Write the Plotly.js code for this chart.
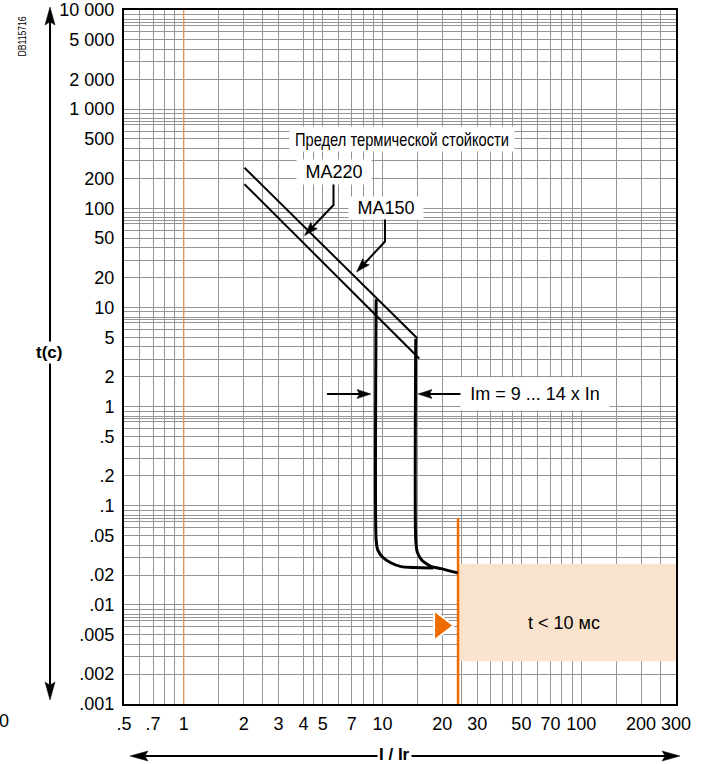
<!DOCTYPE html>
<html>
<head>
<meta charset="utf-8">
<script src="https://cdn.plot.ly/plotly-3.0.1.min.js"></script>
<style>html,body{margin:0;padding:0;background:#fff;}#chart{width:704px;height:764px;}</style>
</head>
<body>
<div id="chart"></div>
<script>
// ---------- data ----------
const xTickVals = [0.5, 0.7, 1, 2, 3, 4, 5, 7, 10, 20, 30, 50, 70, 100, 200, 300];
const xTickText = ['.5', '.7', '1', '2', '3', '4', '5', '7', '10', '20', '30', '50', '70', '100', '200', '300'];
const xMinorVals = [0.6, 0.8, 0.9, 1.5, 2.5, 4.5, 6, 8, 9, 15, 25, 35, 40, 45, 60, 80, 90, 150, 250];

const yTickVals = [0.001, 0.002, 0.005, 0.01, 0.02, 0.05, 0.1, 0.2, 0.5, 1, 2, 5, 10, 20, 50, 100, 200, 500, 1000, 2000, 5000, 10000];
const yTickText = ['.001', '.002', '.005', '.01', '.02', '.05', '.1', '.2', '.5', '1', '2', '5', '10', '20', '50', '100', '200', '500', '1 000', '2 000', '5 000', '10 000'];
const yMinorMultiples = [3, 4, 6, 7, 7.5, 8, 9];
const yDecades = [0.001, 0.01, 0.1, 1, 10, 100, 1000];

// thermal withstand limits (I²t lines)
const thermUpperX = [2.02, 15.0];
const thermUpperY = [256, 4.86];
const thermLowerX = [2.02, 15.3];
const thermLowerY = [175, 3.06];

// magnetic trip curves (Im = 9 and Im = 14)
const tripLowX = [9.29, 9.29, 9.47, 10.03, 11.0, 12.4, 14.5, 18.0];
const tripLowY = [12.1, 0.0449, 0.0356, 0.0302, 0.0266, 0.0243, 0.0238, 0.0236];
const tripHighX = [14.7, 14.7, 14.97, 15.78, 17.5, 19.7, 23.9];
const tripHighY = [4.83, 0.0449, 0.034, 0.0282, 0.0245, 0.0232, 0.021];

// reference lines and zone
const refLineX = 1;
const zoneX = [24, 300];
const zoneY = [0.0027, 0.026];
const zoneLineTop = 0.075;
const markerX = [19.6];
const markerY = [0.0062];

// ---------- helpers ----------
const L = 124, T = 10, W = 552, H = 694;
const px = x => (x - L) / W;
const py = y => (T + H - y) / H;
const lg = Math.log10;

const yMinorVals = [];
yDecades.forEach(d => yMinorMultiples.forEach(m => yMinorVals.push(d * m)));

function arrow(pts, headLen, headW, lw) {
  const n = pts.length;
  const [tx, ty] = pts[n - 1];
  const [bx, by] = pts[n - 2];
  const dx = tx - bx, dy = ty - by, d = Math.hypot(dx, dy);
  const ux = dx / d, uy = dy / d;
  const baseX = tx - ux * headLen, baseY = ty - uy * headLen;
  const shaft = pts.slice(0, n - 1).concat([[baseX + ux * 3, baseY + uy * 3]]);
  const path = shaft.map((p, i) => (i ? 'L' : 'M') + px(p[0]) + ',' + py(p[1])).join(' ');
  const s1 = [baseX - uy * headW / 2, baseY + ux * headW / 2];
  const s2 = [baseX + uy * headW / 2, baseY - ux * headW / 2];
  const notch = [baseX + ux * headLen * 0.18, baseY + uy * headLen * 0.18];
  const head = 'M' + px(tx) + ',' + py(ty) + ' L' + px(s1[0]) + ',' + py(s1[1]) +
    ' L' + px(notch[0]) + ',' + py(notch[1]) + ' L' + px(s2[0]) + ',' + py(s2[1]) + ' Z';
  return [
    {type: 'path', xref: 'paper', yref: 'paper', path: path, line: {color: '#000', width: lw}},
    {type: 'path', xref: 'paper', yref: 'paper', path: head, fillcolor: '#000', line: {color: '#000', width: 0.5}}
  ];
}

const FONT = 'Liberation Sans, Arial, sans-serif';

// ---------- traces ----------
const black = '#000';
const traces = [
  {
    x: [zoneX[0], zoneX[1], zoneX[1], zoneX[0], zoneX[0]],
    y: [zoneY[0], zoneY[0], zoneY[1], zoneY[1], zoneY[0]],
    mode: 'lines', fill: 'toself', fillcolor: '#fae3cd', line: {width: 0, color: '#fae3cd'}
  },
  {x: [refLineX, refLineX], y: [yTickVals[0], yTickVals[yTickVals.length - 1]], mode: 'lines', line: {color: '#f29a55', width: 1.2}},
  {x: [zoneX[0], zoneX[0]], y: [zoneLineTop, yTickVals[0]], mode: 'lines', line: {color: '#ef6c00', width: 2.5}},
  {x: thermUpperX, y: thermUpperY, mode: 'lines', line: {color: black, width: 2}},
  {x: thermLowerX, y: thermLowerY, mode: 'lines', line: {color: black, width: 2}},
  {x: tripLowX, y: tripLowY, mode: 'lines', line: {color: black, width: 3, shape: 'spline', smoothing: 0.6}},
  {x: tripHighX, y: tripHighY, mode: 'lines', line: {color: black, width: 3, shape: 'spline', smoothing: 0.6}},
  {x: markerX, y: markerY, mode: 'markers', marker: {symbol: 'triangle-right', size: 26, color: '#ef6c00', line: {color: '#fff', width: 2}}}
];

// ---------- shapes (decorative arrows) ----------
let shapes = [];
shapes = shapes.concat(arrow([[50, 352], [50, 7]], 18, 10, 2));
shapes = shapes.concat(arrow([[50, 352], [50, 700]], 18, 10, 2));
shapes = shapes.concat(arrow([[394, 756], [130, 756]], 18, 10, 2));
shapes = shapes.concat(arrow([[394, 756], [680, 756]], 18, 10, 2));
shapes = shapes.concat(arrow([[333.5, 183], [333.5, 205], [304.5, 235.5]], 14, 9, 2));
shapes = shapes.concat(arrow([[385, 217], [385, 241.5], [356.5, 272]], 14, 9, 2));
shapes = shapes.concat(arrow([[327, 394], [371, 394]], 14, 9, 2));
shapes = shapes.concat(arrow([[461, 394], [418, 394]], 14, 9, 2));

// ---------- annotations ----------
const ann = (text, x, y, opts) => Object.assign({
  text: text, xref: 'paper', yref: 'paper', x: px(x), y: py(y),
  xanchor: 'center', yanchor: 'middle', showarrow: false,
  font: {family: FONT, size: 18, color: '#000'}
}, opts || {});

const TITLE_TEXT = 'Предел термической стойкости';
const annotations = [
  ann(TITLE_TEXT, 402, 139, {bgcolor: '#fff', width: 222, height: 22, font: {family: FONT, size: 19, color: '#000'}}),
  ann('MA220', 333.5, 172, {bgcolor: '#fff', width: 72, height: 22}),
  ann('MA150', 386, 207.5, {bgcolor: '#fff', width: 72, height: 20}),
  ann('Im = 9 ... 14 x In', 535, 393.5, {bgcolor: '#fff', width: 146, height: 30}),
  {text: 't &lt; 10 мс', xref: 'x', yref: 'y', x: lg(82), y: lg(0.0065), showarrow: false,
   xanchor: 'center', yanchor: 'middle', font: {family: FONT, size: 18, color: '#000'}},
  ann('<b>t(c)</b>', 49, 352, {bgcolor: '#fff', font: {family: FONT, size: 17, color: '#000'}}),
  ann('<b>I / Ir</b>', 394, 754, {bgcolor: '#fff', font: {family: FONT, size: 17, color: '#000'}}),
  ann('DB115716', 22, 37, {textangle: -90, font: {family: FONT, size: 11, color: '#000'}}),
  ann('0', 4, 721, {font: {family: FONT, size: 18, color: '#000'}})
];

// ---------- layout ----------
const gridC = '#959595';
const layout = {
  width: 704, height: 764,
  margin: {l: L, r: 704 - L - W, t: T, b: 764 - T - H, pad: 0},
  paper_bgcolor: '#fff', plot_bgcolor: '#fff',
  showlegend: false, hovermode: false,
  font: {family: FONT, size: 18, color: '#000'},
  xaxis: {
    type: 'log', range: [lg(0.5), lg(300)],
    tickmode: 'array', tickvals: xTickVals, ticktext: xTickText,
    ticks: '', ticklabelstandoff: 2,
    showgrid: true, gridcolor: gridC, gridwidth: 1,
    minor: {tickmode: 'array', tickvals: xMinorVals, showgrid: true, gridcolor: gridC, gridwidth: 1, ticks: ''},
    showline: true, mirror: true, linecolor: '#000', linewidth: 2, zeroline: false,
    tickfont: {family: FONT, size: 18, color: '#000'}, fixedrange: true
  },
  yaxis: {
    type: 'log', range: [-3, 4],
    tickmode: 'array', tickvals: yTickVals, ticktext: yTickText,
    ticks: '', ticklabelstandoff: 4,
    showgrid: true, gridcolor: gridC, gridwidth: 1,
    minor: {tickmode: 'array', tickvals: yMinorVals, showgrid: true, gridcolor: gridC, gridwidth: 1, ticks: ''},
    showline: true, mirror: true, linecolor: '#000', linewidth: 2, zeroline: false,
    tickfont: {family: FONT, size: 18, color: '#000'}, fixedrange: true
  },
  shapes: shapes,
  annotations: annotations
};

Plotly.newPlot('chart', traces, layout, {displayModeBar: false, staticPlot: true}).then(gd => {
  // condense the narrow-font captions (no narrow font is installed)
  gd.querySelectorAll('text.annotation-text').forEach(t => {
    if (t.textContent === TITLE_TEXT) {
      t.setAttribute('textLength', '214');
      t.setAttribute('lengthAdjust', 'spacingAndGlyphs');
    } else if (t.textContent === 'DB115716') {
      t.setAttribute('textLength', '40');
      t.setAttribute('lengthAdjust', 'spacingAndGlyphs');
    }
  });
});
</script>
</body>
</html>
